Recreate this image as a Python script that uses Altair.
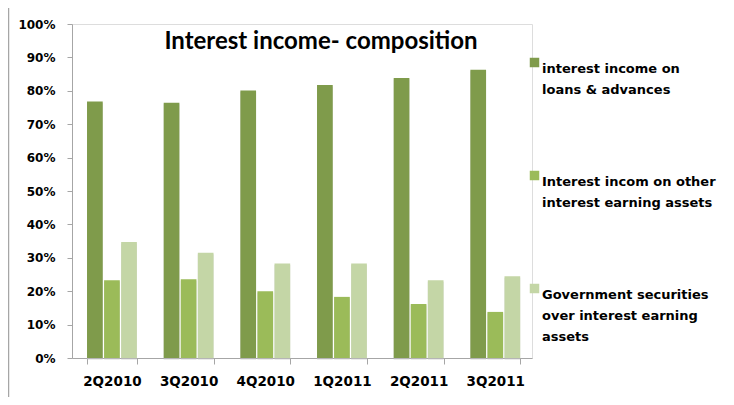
import altair as alt
import pandas as pd

quarters = ["2Q2010", "3Q2010", "4Q2010", "1Q2011", "2Q2011", "3Q2011"]
series = [
    "interest income on loans & advances",
    "Interest incom on other interest earning assets",
    "Government securities over interest earning assets",
]
legend_lines = [
    ["interest income on", "loans & advances"],
    ["Interest incom on other", "interest earning assets"],
    ["Government securities", "over interest earning", "assets"],
]
loans = [0.768, 0.764, 0.801, 0.817, 0.838, 0.863]
other = [0.233, 0.236, 0.200, 0.183, 0.162, 0.138]
govt = [0.347, 0.315, 0.283, 0.283, 0.233, 0.245]
colors = ["#7F9B4B", "#9BBB59", "#C4D6A6"]

rows = []
for s, vals in zip(series, [loans, other, govt]):
    for q, v in zip(quarters, vals):
        rows.append({"quarter": q, "series": s, "value": v})
df = pd.DataFrame(rows)

expr_parts = []
for s, lines in zip(series, legend_lines):
    arr = "[" + ",".join("'" + l.replace("'", "\\'") + "'" for l in lines) + "]"
    expr_parts.append(f"datum.label == '{s}' ? {arr} : ")
label_expr = "".join(expr_parts) + "datum.label"

W, H = 460, 334

x_enc = alt.X("quarter:N", sort=quarters,
              scale=alt.Scale(paddingInner=0.35, paddingOuter=0.175, align=0.56),
              axis=alt.Axis(title=None, labelAngle=0, tickBand="extent", tickSize=6,
                            labelPadding=10, labelFont="DejaVu Sans", labelFontWeight="bold",
                            labelFontSize=13.5, labelColor="#000000",
                            domainColor="#A6A6A6", tickColor="#A6A6A6"))
xo_enc = alt.XOffset("series:N", sort=series, scale=alt.Scale(paddingInner=0.08))
y_enc = alt.Y("value:Q", scale=alt.Scale(domain=[0, 1], nice=False),
              axis=alt.Axis(title=None, format="%", values=[i / 10 for i in range(11)],
                            tickSize=5, labelPadding=12, grid=False,
                            labelFont="DejaVu Sans", labelFontWeight="bold",
                            labelFontSize=12, labelColor="#000000",
                            domainColor="#A6A6A6", tickColor="#A6A6A6"))

shadow = alt.Chart(df).mark_bar(color="#BFBFBF", opacity=0.6, xOffset=2.5, yOffset=1.5).encode(
    x=x_enc, xOffset=xo_enc, y=y_enc
)

bars = alt.Chart(df).mark_bar().encode(
    x=x_enc,
    xOffset=xo_enc,
    y=y_enc,
    color=alt.Color("series:N", sort=series,
                    scale=alt.Scale(domain=series, range=colors),
                    legend=alt.Legend(title=None, orient="none", legendX=456, legendY=32,
                                      symbolType="square", symbolSize=90,
                                      symbolStrokeWidth=0,
                                      labelExpr=label_expr, labelFont="DejaVu Sans",
                                      labelFontWeight="bold", labelFontSize=13,
                                      labelColor="#000000", labelBaseline="top",
                                      labelLimit=300, rowPadding=72, labelOffset=1)),
)

border = alt.Chart(pd.DataFrame({"a": [0]})).mark_rect(
    fill=None, stroke="#A6A6A6", strokeWidth=1.5
).encode(x=alt.value(-63.5), x2=alt.value(659.5), y=alt.value(-17), y2=alt.value(400))

chart = alt.layer(shadow, bars, border).properties(
    width=W, height=H,
    title=alt.Title("Interest income- composition", font="Lato", fontSize=24,
                    fontWeight="bold", color="#000000", anchor="middle",
                    dx=19, dy=28, offset=-20),
    padding={"left": 64, "top": 16, "right": 194, "bottom": 39},
    autosize="none",
).configure_view(stroke=None).configure(style={"guide-label": {"lineHeight": 21}})

chart.save("out.html", embed_options={"renderer": "svg", "actions": False})
